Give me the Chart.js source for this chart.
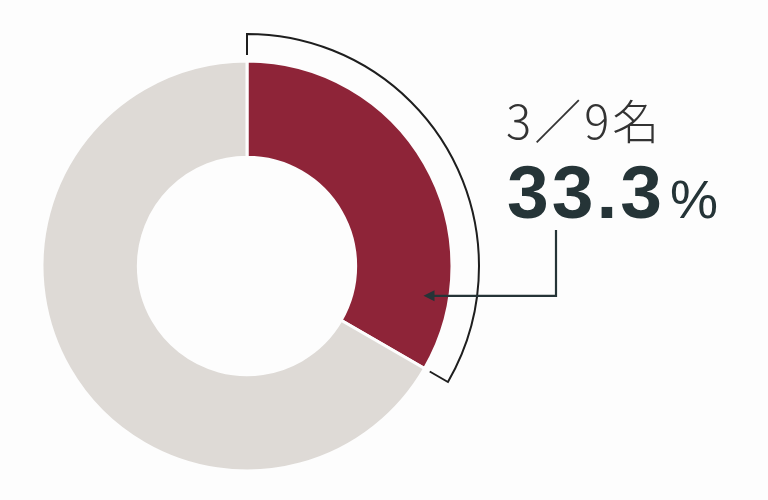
<!DOCTYPE html>
<html>
<head>
<meta charset="utf-8">
<script src="https://cdn.jsdelivr.net/npm/chart.js@4"></script>
<style>
  html, body { margin: 0; padding: 0; background: #fdfdfd; }
  #wrap { width: 768px; height: 500px; position: relative; }
</style>
</head>
<body>
<div id="wrap"><canvas id="chart-share"></canvas></div>
<script>
// 9 people, 3 of them
var labels = ['該当', 'その他'];
var counts = [3, 6];
var colors = ['#8e2438', '#dedad6'];
var countLabel = '3／9名';
var percentLabel = '33.3';

var inkColor = '#253437';

// bracket around the first slice + arrow + labels
var calloutPlugin = {
    id: 'callout',
    afterDatasetsDraw: function(chart) {
        var arc = chart.getDatasetMeta(0).data[0];
        var ctx = chart.ctx;
        var cx = arc.x, cy = arc.y;
        var rOut = arc.outerRadius + 27;
        var rIn = arc.outerRadius + 6;
        var a0 = arc.startAngle, a1 = arc.endAngle;

        ctx.save();
        ctx.strokeStyle = '#1e1e1e';
        ctx.lineWidth = 2;
        ctx.beginPath();
        ctx.moveTo(cx + rIn * Math.cos(a0), cy + rIn * Math.sin(a0));
        ctx.arc(cx, cy, rOut, a0, a1);
        ctx.lineTo(cx + rIn * Math.cos(a1), cy + rIn * Math.sin(a1));
        ctx.stroke();

        // arrow from the label down into the slice
        var tipA = a0 + (a1 - a0) * 0.83;
        var tipR = 179;
        var tipX = cx + tipR * Math.cos(tipA);
        var tipY = cy + tipR * Math.sin(tipA);
        var elbowX = 556;
        ctx.strokeStyle = inkColor;
        ctx.fillStyle = inkColor;
        ctx.lineWidth = 2.2;
        ctx.beginPath();
        ctx.moveTo(elbowX, 230);
        ctx.lineTo(elbowX, tipY);
        ctx.lineTo(tipX + 8, tipY);
        ctx.stroke();
        ctx.beginPath();
        ctx.moveTo(tipX, tipY);
        ctx.lineTo(tipX + 11, tipY - 5.5);
        ctx.lineTo(tipX + 11, tipY + 5.5);
        ctx.closePath();
        ctx.fill();

        // labels
        ctx.textBaseline = 'alphabetic';
        ctx.textAlign = 'left';
        ctx.fillStyle = '#333';
        ctx.letterSpacing = '3px';
        ctx.font = '300 47px "Noto Sans CJK JP"';
        ctx.fillText(countLabel, 506, 139);

        ctx.fillStyle = inkColor;
        ctx.letterSpacing = '3px';
        ctx.font = 'bold 75px "Liberation Sans"';
        ctx.fillText(percentLabel, 507, 218);
        var w = ctx.measureText(percentLabel).width;
        ctx.letterSpacing = '0px';
        ctx.font = '54px "Liberation Sans"';
        ctx.fillText('%', 507 + w + 5, 218);
        ctx.restore();
    }
};

var ctx = document.getElementById('chart-share');
var myShare = new Chart(ctx, {
    type: 'doughnut',
    data: {
        labels: labels,
        datasets: [
            {
                data: counts,
                backgroundColor: colors,
                borderColor: '#fdfdfd',
                borderWidth: 3,
                hoverOffset: 0
            }]
    },
    options: {
        responsive: true,
        maintainAspectRatio: false,
        animation: false,
        cutout: '53%',
        radius: 205,
        layout: {
            padding: { left: 40, right: 314, top: 59, bottom: 27 }
        },
        plugins: {
            legend: { display: false },
            tooltip: { enabled: false }
        }
    },
    plugins: [calloutPlugin]
});
</script>
</body>
</html>
